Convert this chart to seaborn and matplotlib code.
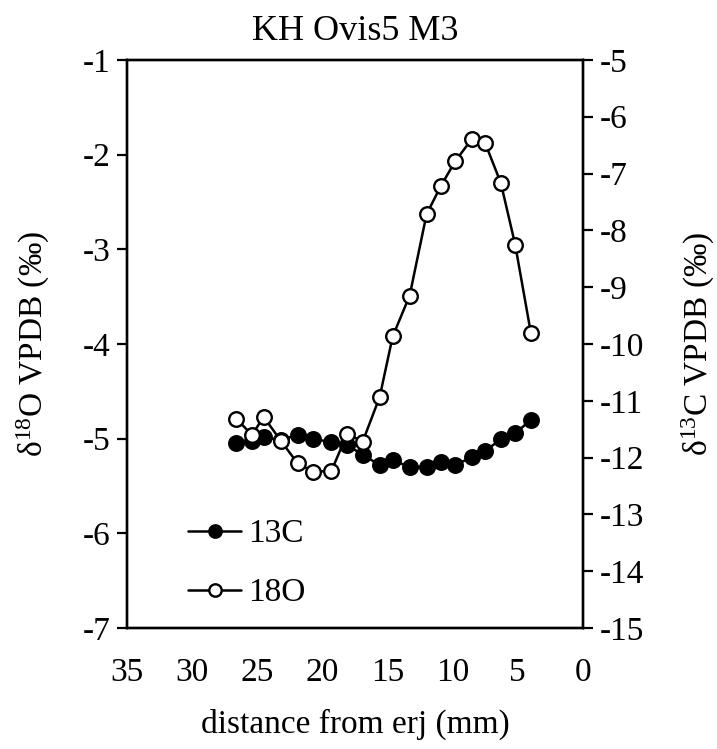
import numpy as np
import pandas as pd
import matplotlib
matplotlib.use("Agg")
import matplotlib.pyplot as plt
import seaborn as sns

################ DATA ################
distance = [26.6, 25.4, 24.5, 23.2, 21.9, 20.7, 19.3, 18.1, 16.9, 15.6,
            14.6, 13.3, 12.0, 10.9, 9.8, 8.5, 7.5, 6.3, 5.2, 4.0]
d18o = [-4.79, -4.96, -4.77, -5.02, -5.26, -5.35, -5.34, -4.95, -5.03, -4.56,
        -3.92, -3.49, -2.63, -2.33, -2.07, -1.83, -1.88, -2.30, -2.95, -3.88]
d13c = [-11.75, -11.70, -11.64, -11.69, -11.60, -11.68, -11.72, -11.78, -11.95, -12.13,
        -12.04, -12.17, -12.16, -12.07, -12.13, -11.99, -11.88, -11.68, -11.57, -11.34]

df = pd.DataFrame({'distance': distance, 'd18O': d18o, 'd13C': d13c})

################ STYLE ################
sns.set_style("white")
plt.rcParams['font.family'] = ['Liberation Serif', 'DejaVu Serif']
plt.rcParams['mathtext.fontset'] = 'custom'
plt.rcParams['mathtext.rm'] = 'Liberation Serif'
plt.rcParams['mathtext.default'] = 'rm'
plt.rcParams['axes.unicode_minus'] = False
plt.rcParams['font.size'] = 24
plt.rcParams['text.color'] = 'black'
plt.rcParams['axes.labelcolor'] = 'black'

fig = plt.figure(figsize=(7.17, 7.49), dpi=100)
ax = fig.add_axes([0.177, 0.1615, 0.636, 0.7585])
ax2 = ax.twinx()

# 13C on right axis
sns.lineplot(data=df, x='distance', y='d13C', ax=ax2, sort=False,
             color='black', linewidth=1.8, marker='o', markersize=10.5,
             markerfacecolor='black', markeredgecolor='black', markeredgewidth=1.7,
             label='13C', legend=False)

# 18O on left axis (drawn on top)
sns.lineplot(data=df, x='distance', y='d18O', ax=ax, sort=False,
             color='black', linewidth=1.8, marker='o', markersize=10.5,
             markerfacecolor='white', markeredgecolor='black', markeredgewidth=1.7,
             label='18O', legend=False)

ax.set_zorder(ax2.get_zorder() + 1)
ax.patch.set_visible(False)

ax.set_xlim(35, 0)
ax.set_xticks(range(35, -1, -5))
ax.set_ylim(-7, -1)
ax.set_yticks(range(-7, 0))
ax2.set_ylim(-15, -5)
ax2.set_yticks(range(-15, -4))

ax.set_xlabel("distance from erj (mm)", labelpad=15)
ax.set_ylabel(r"δ$^{18}$O VPDB (‰)", labelpad=22)
ax2.set_ylabel(r"δ$^{13}$C VPDB (‰)", labelpad=26)
ax.set_title("KH Ovis5 M3", fontsize=26, pad=14)

for a in (ax, ax2):
    for s in a.spines.values():
        s.set_linewidth(1.7)
        s.set_color('black')
    a.tick_params(direction='out', length=7, width=1.6, colors='black', labelsize=24)
ax.tick_params(axis='x', pad=14)
ax.tick_params(axis='y', pad=5)
ax2.tick_params(axis='y', pad=5)

h1, l1 = ax2.get_legend_handles_labels()
h2, l2 = ax.get_legend_handles_labels()
leg = ax.legend(h1 + h2, l1 + l2, loc='lower left', bbox_to_anchor=(0.068, -0.018),
                frameon=False, handlelength=1.6, handletextpad=0.2,
                labelspacing=0.85, markerscale=0.85, fontsize=24)

fig.savefig("out.png", dpi=100)
